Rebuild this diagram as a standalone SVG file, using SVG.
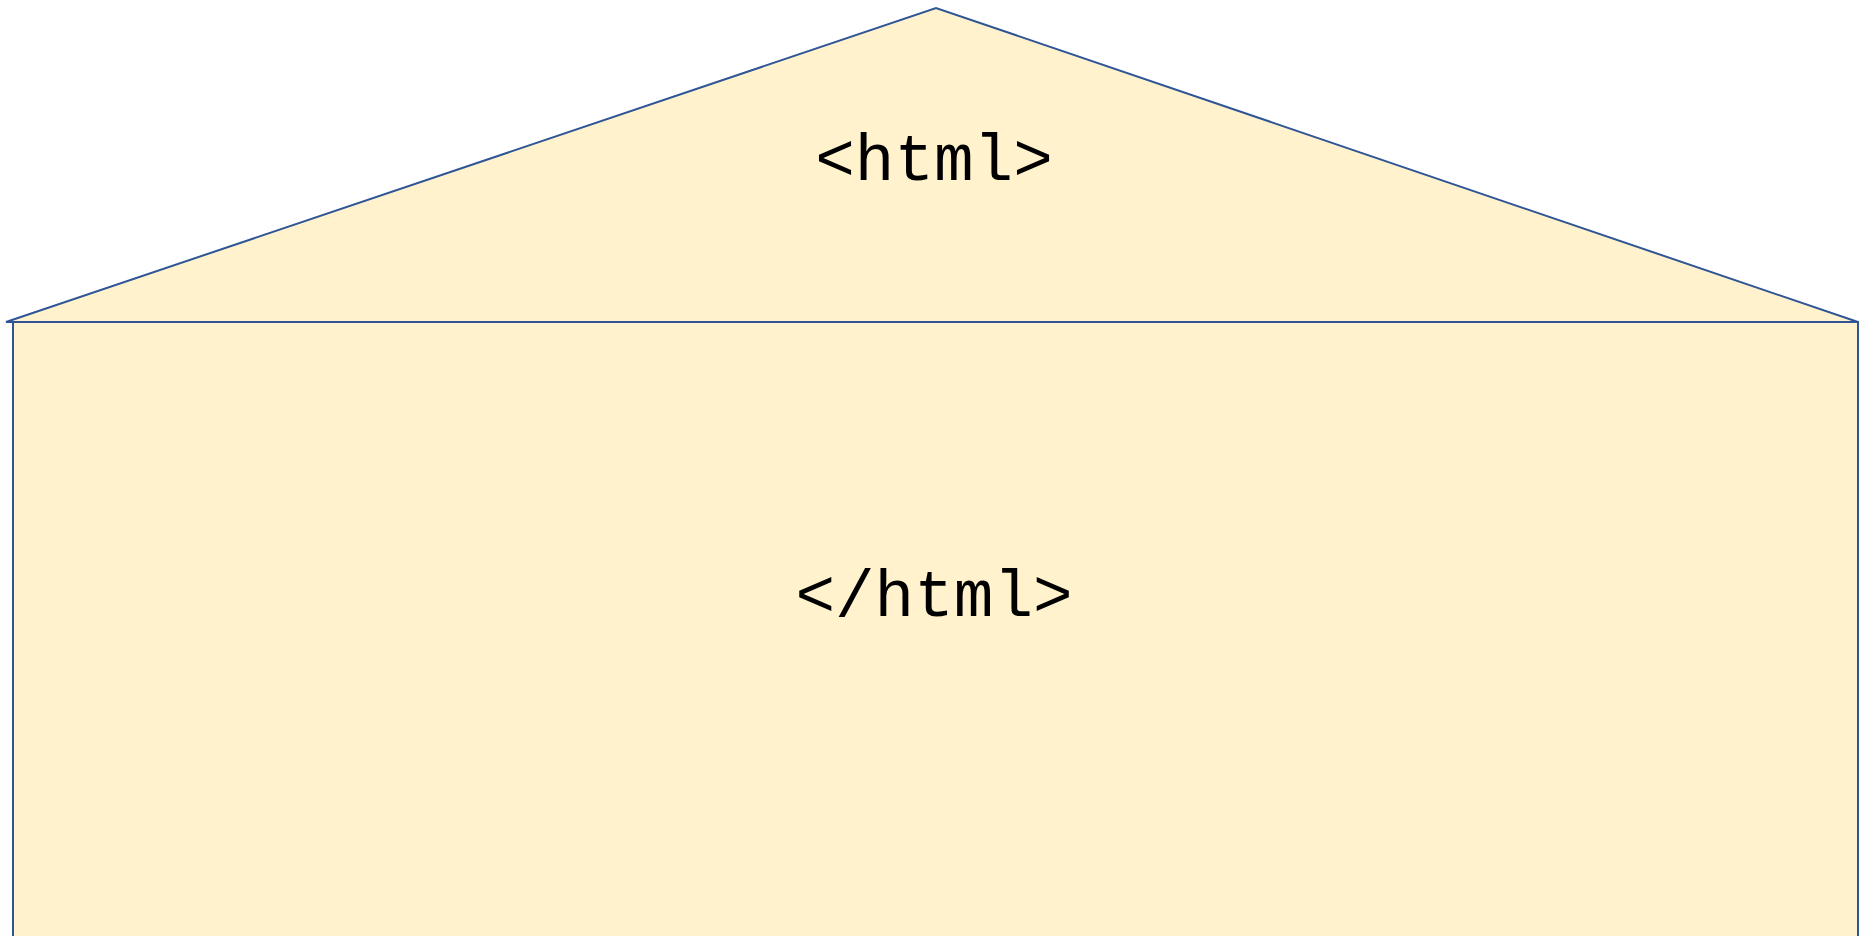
<svg xmlns="http://www.w3.org/2000/svg" width="1860" height="936" viewBox="0 0 1860 936">
  <style>
    .shape { fill: #FFF2CC; stroke: #2F5597; stroke-width: 2; }
    .tag { font-family: "Liberation Mono", "Courier New", monospace; font-size: 66px; fill: #000000; text-anchor: middle; }
  </style>
  <rect width="1860" height="936" fill="#FFFFFF"/>
  <!-- roof -->
  <g id="roof">
    <polygon class="shape" points="6,322 936,8 1858,322"/>
    <text class="tag" x="934" y="180">&lt;html&gt;</text>
  </g>
  <!-- body -->
  <g id="body">
    <rect class="shape" x="13" y="322" width="1845" height="630"/>
    <text class="tag" x="934" y="616">&lt;/html&gt;</text>
  </g>
  <g id="connectors"/>
</svg>
